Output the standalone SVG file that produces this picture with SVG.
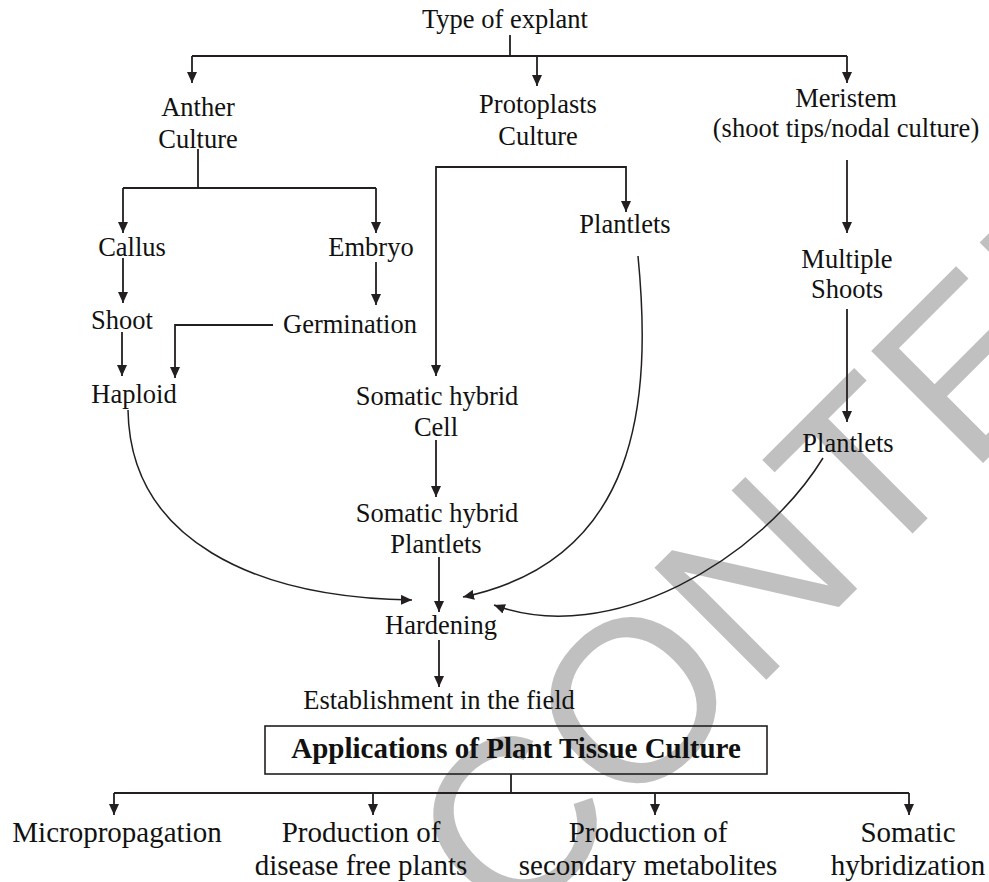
<svg xmlns="http://www.w3.org/2000/svg" width="989" height="882" viewBox="0 0 989 882">
<style>
text{font-family:"Liberation Serif","Times New Roman",serif;fill:#111;text-anchor:middle}
.t{font-size:26.5px}
.b{font-size:29px}
.bold{font-size:29px;font-weight:bold}
.wm{font-family:"Liberation Sans",Arial,sans-serif;font-size:230px;fill:#c0c0c0;text-anchor:start}
.c{fill:none;stroke:#231f20;stroke-width:1.8}
.cv{fill:none;stroke:#231f20;stroke-width:1.5}
.a{marker-end:url(#arr)}
</style>
<defs>
<marker id="arr" markerUnits="userSpaceOnUse" markerWidth="11" markerHeight="10" refX="11" refY="5" orient="auto" viewBox="0 0 11 10">
<path d="M0,0 L11,5 L0,10 z" fill="#231f20"/>
</marker>
</defs>
<rect width="989" height="882" fill="#fff"/>
<text class="wm" x="509" y="937" transform="rotate(-45 509 937)">CONTENT</text>

<g id="connectors">
<path class="c" d="M510,35 V56 M192,56 H847"/>
<path class="c a" d="M192,56 V83"/>
<path class="c a" d="M537,56 V86"/>
<path class="c a" d="M847,56 V83"/>
<path class="c" d="M198,149 V188 M123,188 H376"/>
<path class="c a" d="M123,188 V233"/>
<path class="c a" d="M376,188 V233"/>
<path class="c a" d="M531,167 H436 V376"/>
<path class="c a" d="M531,167 H626 V212"/>
<path class="c a" d="M847,160 V233"/>
<path class="c a" d="M123,258 V303"/>
<path class="c a" d="M122,332 V376"/>
<path class="c a" d="M376,262 V305"/>
<path class="c a" d="M273,325 H175 V378"/>
<path class="c a" d="M847,309 V422"/>
<path class="c a" d="M436,440 V497"/>
<path class="c a" d="M439,557 V612"/>
<path class="c a" d="M439,640 V687"/>
<path class="cv a" d="M128,410 C130,540 255,598 412,600"/>
<path class="cv a" d="M638,256 C652,400 640,560 463,597"/>
<path class="cv a" d="M823,458 C760,560 610,648 494,605"/>
<path class="c" d="M511,774 V793 M114,793 H909"/>
<path class="c a" d="M114,793 V815"/>
<path class="c a" d="M373,793 V815"/>
<path class="c a" d="M655,793 V815"/>
<path class="c a" d="M909,793 V815"/>
</g>

<g id="n-type"><text class="t" x="505" y="28">Type of explant</text></g>
<g id="n-anther"><text class="t" x="198" y="116">Anther</text><text class="t" x="198" y="148">Culture</text></g>
<g id="n-protoplasts"><text class="t" x="538" y="113">Protoplasts</text><text class="t" x="538" y="145">Culture</text></g>
<g id="n-meristem"><text class="t" x="846" y="107">Meristem</text><text class="t" x="846" y="137">(shoot tips/nodal culture)</text></g>
<g id="n-callus"><text class="t" x="132" y="256">Callus</text></g>
<g id="n-embryo"><text class="t" x="371" y="256">Embryo</text></g>
<g id="n-plantlets1"><text class="t" x="625" y="233">Plantlets</text></g>
<g id="n-multiple"><text class="t" x="847" y="268">Multiple</text><text class="t" x="847" y="298">Shoots</text></g>
<g id="n-shoot"><text class="t" x="122" y="329">Shoot</text></g>
<g id="n-germination"><text class="t" x="350" y="333">Germination</text></g>
<g id="n-haploid"><text class="t" x="134" y="403">Haploid</text></g>
<g id="n-shcell"><text class="t" x="437" y="405">Somatic hybrid</text><text class="t" x="436" y="436">Cell</text></g>
<g id="n-shplant"><text class="t" x="437" y="522">Somatic hybrid</text><text class="t" x="436" y="553">Plantlets</text></g>
<g id="n-plantlets2"><text class="t" x="848" y="452">Plantlets</text></g>
<g id="n-hardening"><text class="t" x="441" y="634">Hardening</text></g>
<g id="n-establish"><text class="t" x="439" y="709">Establishment in the field</text></g>
<g id="n-applications"><rect x="265" y="726" width="502" height="48" fill="none" stroke="#231f20" stroke-width="1.6"/><text class="bold" x="516" y="758">Applications of Plant Tissue Culture</text></g>
<g id="n-micro"><text class="b" x="117" y="842">Micropropagation</text></g>
<g id="n-disease"><text class="b" x="361" y="842">Production of</text><text class="b" x="361" y="875">disease free plants</text></g>
<g id="n-secondary"><text class="b" x="648" y="842">Production of</text><text class="b" x="648" y="875">secondary metabolites</text></g>
<g id="n-somatic"><text class="b" x="908" y="842">Somatic</text><text class="b" x="908" y="875">hybridization</text></g>
</svg>
